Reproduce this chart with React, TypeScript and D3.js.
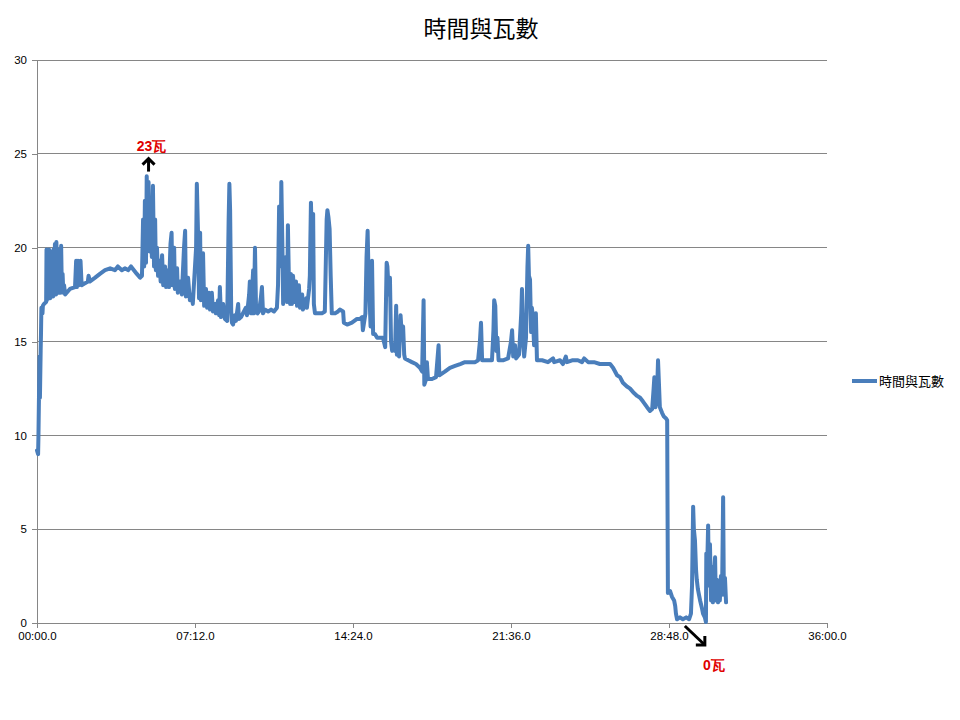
import React from 'react';
import { scaleLinear, line, select, axisLeft, axisBottom } from 'd3';

// elapsed time in seconds and the power reading (watts)
const seconds = [
  0, 3, 4, 5, 7, 8, 10, 11, 12, 15, 16, 19,
  25, 26, 27, 29, 31, 33, 36, 37, 40, 41, 44, 45, 48, 49, 52, 53, 56, 57, 60, 62, 64, 66, 68, 70, 72, 74, 77,
  90, 104, 107, 109, 112, 115, 119, 122, 131, 139, 141, 145, 159, 172, 186, 200, 213, 221, 232, 241, 249, 257, 265, 273, 282, 287,
  290, 293, 295, 298, 300, 302, 305, 308, 312, 314, 317, 320, 323, 325, 328, 331, 335, 338, 342, 345, 350, 353, 358, 361,
  365, 368, 370, 375, 377, 383, 385, 391, 396, 402, 405, 407, 413, 418, 424, 426, 435, 437, 440, 443, 446, 448, 454, 457,
  462, 465, 470, 473, 478, 481, 487, 489, 495, 498, 500, 503, 509, 514, 520, 524, 526, 528, 531, 533, 536, 541, 544, 550,
  552, 558, 563, 571, 574, 580, 582, 585, 591, 593, 596, 599, 603, 607, 612, 615, 618, 623, 632, 640, 648, 656, 659, 662,
  664, 667, 668, 671, 673, 675, 678, 681, 684, 686, 689, 692, 694, 697, 700, 705, 708, 711, 716, 719, 725, 727, 733, 736,
  738, 744, 746, 749, 752, 755, 757, 760, 768, 779, 787, 792, 794, 797, 800, 803, 806, 815, 823, 828, 837, 839, 848, 861,
  875, 883, 889, 891, 898, 901, 904, 906, 909, 912, 916, 919, 924, 930, 938, 946, 952, 956, 958, 962, 965, 968, 971, 973,
  979, 982, 984, 987, 990, 994, 997, 1001, 1004, 1006, 1015, 1025, 1036, 1047, 1053, 1057, 1058, 1059, 1064, 1066, 1069,
  1080, 1091, 1098, 1100, 1115, 1129, 1143, 1157, 1170, 1184, 1198, 1206, 1211, 1214, 1217, 1230, 1244, 1248, 1250, 1253,
  1256, 1259, 1262, 1274, 1288, 1296, 1299, 1302, 1307, 1310, 1318, 1324, 1326, 1329, 1332, 1337, 1341, 1343, 1345, 1348,
  1351, 1353, 1356, 1359, 1362, 1364, 1367, 1381, 1397, 1411, 1414, 1430, 1438, 1446, 1449, 1463, 1479, 1490, 1496, 1507,
  1523, 1539, 1556, 1567, 1575, 1586, 1594, 1602, 1613, 1621, 1630, 1641, 1649, 1657, 1668, 1676, 1682, 1686, 1688, 1691,
  1695, 1698, 1701, 1703, 1709, 1714, 1720, 1723, 1725, 1731, 1736, 1742, 1745, 1747, 1750, 1758, 1766, 1775, 1783, 1788,
  1791, 1794, 1796, 1799, 1802, 1804, 1807, 1810, 1813, 1818, 1821, 1826, 1829, 1830, 1833, 1835, 1837, 1840, 1843, 1846,
  1848, 1851, 1854, 1856, 1859, 1862, 1865, 1867, 1870, 1873, 1876, 1878, 1881, 1884
];
const watts = [
  9.2, 9.0, 10.0, 11.5, 14.2, 12.0, 14.5, 15.5, 16.8, 16.5, 16.9, 17.0,
  17.1, 19.9, 17.2, 19.8, 17.3, 19.9, 17.3, 19.5, 17.4, 19.8, 17.4, 19.9, 17.5, 20.2, 17.5, 20.3, 17.6, 19.6, 17.6, 19.9, 17.6, 20.1, 17.7, 18.6, 17.6, 18.0, 17.5,
  17.8, 17.9, 19.3, 17.9, 19.3, 18.0, 19.3, 18.0, 18.1, 18.2, 18.5, 18.2, 18.4, 18.6, 18.8, 18.9, 18.8, 19.0, 18.8, 18.9, 18.8, 19.0, 18.8, 18.6, 18.4, 18.5,
  21.5, 19.0, 22.5, 19.2, 23.8, 21.0, 23.5, 19.8, 22.0, 19.5, 23.3, 19.0, 21.5, 18.8, 20.0, 18.5, 19.3, 18.2, 19.6, 18.0, 19.0, 17.9, 18.8, 17.9,
  20.2, 20.8, 18.0, 20.0, 17.8, 18.9, 17.6, 18.2, 17.5, 20.0, 20.9, 17.4, 18.4, 17.2, 17.5, 17.0, 20.0, 23.4, 21.0, 17.3, 20.8, 17.2, 19.7, 16.9,
  17.8, 16.8, 17.6, 16.7, 17.6, 16.6, 17.0, 16.5, 17.2, 16.4, 17.9, 16.3, 17.0, 16.2, 16.1, 21.5, 23.4, 22.0, 16.6, 16.0, 15.9, 16.4, 16.1, 17.0,
  16.2, 16.3, 16.5, 16.8, 16.4, 17.5, 18.2, 16.5, 18.8, 16.5, 20.0, 16.6, 16.5, 16.6, 17.3, 17.9, 16.5, 16.7, 16.6, 16.7, 16.6, 16.8, 18.0, 22.2,
  19.0, 21.5, 23.5, 20.0, 17.0, 19.0, 17.5, 19.5, 17.1, 21.2, 18.0, 17.0, 18.6, 17.0, 18.5, 17.1, 18.2, 16.9, 18.0, 16.8, 17.5, 16.7, 17.0, 17.3,
  16.8, 17.8, 18.5, 22.4, 20.0, 21.8, 17.0, 16.5, 16.5, 16.5, 16.6, 21.5, 22.0, 21.6, 21.0, 18.5, 16.5, 16.5, 16.6, 16.7, 16.6, 16.0, 15.9, 16.0,
  16.2, 16.2, 16.3, 15.6, 16.5, 19.5, 20.9, 19.0, 17.5, 15.8, 19.3, 15.4, 15.4, 15.2, 15.2, 15.2, 14.7, 19.2, 19.0, 17.5, 18.4, 15.0, 14.5, 14.8,
  14.5, 16.9, 14.3, 15.5, 14.2, 16.4, 15.5, 15.8, 14.3, 14.1, 14.0, 13.9, 13.8, 13.6, 13.4, 17.2, 15.0, 12.7, 13.0, 13.9, 13.0,
  13.0, 13.1, 14.8, 13.2, 13.4, 13.6, 13.7, 13.8, 13.9, 13.9, 13.9, 14.0, 15.0, 16.0, 14.0, 14.0, 14.0, 15.6, 17.2, 16.9,
  14.5, 15.2, 14.0, 14.0, 14.1, 15.0, 15.6, 14.2, 14.8, 14.1, 14.3, 16.5, 17.8, 15.0, 14.2, 15.2, 19.0, 20.1, 18.5, 18.3,
  15.5, 16.8, 16.3, 14.8, 15.0, 16.5, 14.0, 14.0, 13.9, 14.1, 13.9, 14.0, 13.8, 14.2, 13.9, 14.0, 14.0, 13.9, 14.1, 13.9,
  13.9, 13.8, 13.8, 13.8, 13.6, 13.2, 13.1, 12.8, 12.6, 12.5, 12.3, 12.1, 12.0, 11.8, 11.5, 11.3, 11.4, 12.5, 13.1, 11.5,
  12.0, 14.0, 12.5, 11.5, 11.2, 11.0, 10.9, 10.8, 1.6, 1.7, 1.4, 1.2, 0.9, 0.5, 0.2, 0.3, 0.2, 0.3, 0.2, 0.5,
  2.0, 6.2, 5.0, 4.4, 2.8, 2.3, 1.8, 1.5, 1.2, 0.8, 0.5, 0.3, 0.05, 3.7, 3.5, 5.2, 2.0, 4.2, 1.2, 3.0,
  1.1, 2.5, 3.5, 1.2, 2.3, 1.1, 2.2, 1.2, 2.5, 1.5, 6.7, 1.5, 2.4, 1.1
];

const yTicks = [0, 5, 10, 15, 20, 25, 30];
const xTickSeconds = [0, 432, 864, 1296, 1728, 2160];
const xTickLabels = ['00:00.0', '07:12.0', '14:24.0', '21:36.0', '28:48.0', '36:00.0'];
const chartTitle = '時間與瓦數';
const seriesName = '時間與瓦數';
const peakNote = { label: '23瓦', sec: 305, value: 24.8 };
const lowNote = { label: '0瓦', sec: 1826, value: 0 };

const dims = {
  width: 960,
  height: 720,
  left: 37,
  right: 827,
  top: 60,
  bottom: 623,
};

const LINE_COLOR = '#4a7ebb';
const GRID_COLOR = '#868686';

const App: React.FC = () => {
  const svgRef = React.useRef<SVGSVGElement>(null);

  const x = scaleLinear().domain([0, 2160]).range([dims.left, dims.right]);
  const y = scaleLinear().domain([0, 30]).range([dims.bottom, dims.top]);

  React.useEffect(() => {
    const svg = select(svgRef.current);
    svg.selectAll('*').remove();

    // horizontal gridlines
    svg.append('g')
      .selectAll('line')
      .data(yTicks.filter(d => d > 0))
      .join('line')
      .attr('x1', dims.left)
      .attr('x2', dims.right)
      .attr('y1', d => y(d))
      .attr('y2', d => y(d))
      .attr('stroke', GRID_COLOR)
      .attr('stroke-width', 1)
      .attr('shape-rendering', 'crispEdges');

    const yAxis = axisLeft(y).tickValues(yTicks).tickSize(5).tickPadding(5).tickFormat(d => `${d}`);
    const yG = svg.append('g')
      .attr('transform', `translate(${dims.left}, 0)`)
      .call(yAxis);

    const xAxis = axisBottom(x)
      .tickValues(xTickSeconds)
      .tickSize(5)
      .tickPadding(4)
      .tickFormat((d, i) => xTickLabels[i]);
    const xG = svg.append('g')
      .attr('transform', `translate(0, ${dims.bottom})`)
      .call(xAxis);

    [yG, xG].forEach(g => {
      g.selectAll('path').attr('stroke', GRID_COLOR).attr('shape-rendering', 'crispEdges');
      g.selectAll('line').attr('stroke', GRID_COLOR).attr('shape-rendering', 'crispEdges');
      g.selectAll('text')
        .attr('fill', '#000')
        .style('font-family', '"Liberation Sans", Arial, sans-serif')
        .style('font-size', '11.5px');
    });
    yG.select('.domain').attr('d', `M0,${dims.top}V${dims.bottom}`);
    xG.select('.domain').attr('d', `M${dims.left},0H${dims.right}`);

    const points = seconds.map((s, i) => ({ s, w: watts[i] }));
    const powerLine = line<{ s: number; w: number }>()
      .x(d => x(d.s))
      .y(d => y(d.w));

    svg.append('path')
      .datum(points)
      .attr('d', powerLine)
      .attr('fill', 'none')
      .attr('stroke', LINE_COLOR)
      .attr('stroke-width', 4)
      .attr('stroke-linejoin', 'round')
      .attr('stroke-linecap', 'round');

    // peak annotation: arrow pointing up
    const px = x(peakNote.sec);
    const py = y(peakNote.value);
    const ann = svg.append('g');
    ann.append('line')
      .attr('x1', px).attr('x2', px)
      .attr('y1', py + 14).attr('y2', py + 1)
      .attr('stroke', '#000').attr('stroke-width', 3);
    ann.append('polyline')
      .attr('points', `${px - 6},${py + 7} ${px},${py + 1} ${px + 6},${py + 7}`)
      .attr('fill', 'none').attr('stroke', '#000').attr('stroke-width', 3);
    ann.append('text')
      .attr('x', px + 3).attr('y', py - 7)
      .attr('text-anchor', 'middle')
      .attr('fill', '#e00000')
      .style('font-family', '"Liberation Sans", Arial, sans-serif')
      .style('font-weight', 'bold')
      .style('font-size', '14px')
      .text(peakNote.label);

    // lowest point annotation: arrow pointing down-right
    const lx = x(lowNote.sec);
    const ly = y(lowNote.value);
    ann.append('line')
      .attr('x1', lx - 20).attr('x2', lx)
      .attr('y1', ly + 3).attr('y2', ly + 22)
      .attr('stroke', '#000').attr('stroke-width', 3);
    ann.append('polyline')
      .attr('points', `${lx},${ly + 13} ${lx},${ly + 22} ${lx - 9},${ly + 22}`)
      .attr('fill', 'none').attr('stroke', '#000').attr('stroke-width', 3);
    ann.append('text')
      .attr('x', lx + 9).attr('y', ly + 47)
      .attr('text-anchor', 'middle')
      .attr('fill', '#e00000')
      .style('font-family', '"Liberation Sans", Arial, sans-serif')
      .style('font-weight', 'bold')
      .style('font-size', '14px')
      .text(lowNote.label);

    // title
    svg.append('text')
      .attr('x', 481).attr('y', 37)
      .attr('text-anchor', 'middle')
      .attr('fill', '#000')
      .style('font-family', '"Noto Sans CJK TC", sans-serif')
      .style('font-size', '23px')
      .text(chartTitle);

    // legend
    const lg = svg.append('g').attr('transform', 'translate(852, 381)');
    lg.append('line')
      .attr('x1', 0).attr('x2', 25).attr('y1', 0).attr('y2', 0)
      .attr('stroke', LINE_COLOR).attr('stroke-width', 4);
    lg.append('text')
      .attr('x', 27).attr('y', 5)
      .attr('fill', '#000')
      .style('font-family', '"Noto Sans CJK TC", sans-serif')
      .style('font-size', '13px')
      .text(seriesName);
  }, []);

  return (
    <svg
      ref={svgRef}
      width={dims.width}
      height={dims.height}
      style={{ position: 'absolute', left: 0, top: 0, background: '#fff' }}
    />
  );
};

export default App;
